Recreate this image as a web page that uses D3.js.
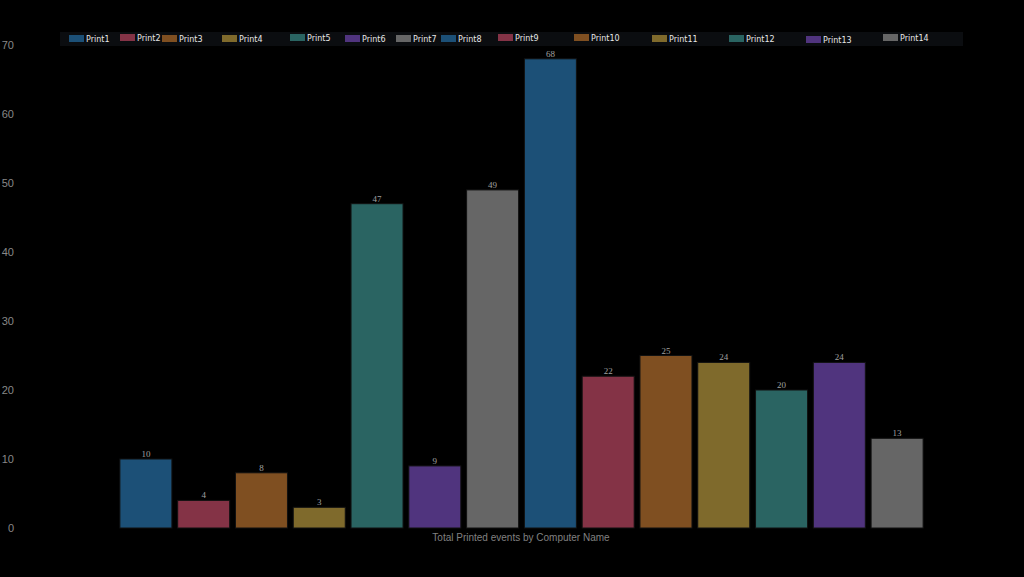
<!DOCTYPE html>
<html>
<head>
<meta charset="utf-8">
<script src="https://cdn.jsdelivr.net/npm/d3@7"></script>
<style>
  html, body { margin: 0; padding: 0; background: #000; }
  svg { display: block; }
</style>
</head>
<body>
<div id="chart"></div>
<script>
// Chart data
var printers = ['Print1', 'Print2', 'Print3', 'Print4', 'Print5', 'Print6', 'Print7',
                'Print8', 'Print9', 'Print10', 'Print11', 'Print12', 'Print13', 'Print14'];
var printCounts = [10, 4, 8, 3, 47, 9, 49, 68, 22, 25, 24, 20, 24, 13];
var yTicks = [0, 10, 20, 30, 40, 50, 60, 70];
var xTitle = 'Total Printed events by Computer Name';

// Palette (repeats after 7)
var palette = ['#1c5077', '#843346', '#7f4f21', '#7f6a2c', '#2a6462', '#50347e', '#666666'];

// Legend item x positions (layout of the legend row)
var legendX = [69, 120, 162, 222, 290, 345, 396, 441, 498, 574, 652, 729, 806, 883];
var legendDy = [0, -1, 0, 0, -1, 0, 0, 0, -1, -1, 0, 0, 1, -1];

var svgWidth = 1024;
var svgHeight = 577;

var svg = d3.select('#chart')
  .append('svg')
  .attr('width', svgWidth)
  .attr('height', svgHeight)
  .style('background', '#000');

// Scales
var xScale = d3.scaleBand()
  .domain(printers)
  .range([117, 926])
  .paddingInner(0.1)
  .paddingOuter(0.05);

var yScale = d3.scaleLinear()
  .domain([0, 70])
  .range([528, 45]);

var color = d3.scaleOrdinal()
  .domain(printers)
  .range(palette);

// Y axis (labels only)
var yAxis = d3.axisLeft(yScale)
  .tickValues(yTicks)
  .tickSize(0)
  .tickPadding(0);

var yG = svg.append('g')
  .attr('transform', 'translate(14,0)')
  .call(yAxis);
yG.select('.domain').remove();
yG.selectAll('text')
  .style('fill', '#888888')
  .style('font-family', 'Liberation Sans, Arial, sans-serif')
  .style('font-size', '11px');

// Bars
svg.append('g').selectAll('rect')
  .data(printers)
  .enter()
  .append('rect')
  .attr('x', d => xScale(d))
  .attr('y', (d, i) => yScale(printCounts[i]))
  .attr('width', xScale.bandwidth())
  .attr('height', (d, i) => yScale(0) - yScale(printCounts[i]))
  .attr('fill', d => color(d))
  .attr('stroke', '#111')
  .attr('stroke-width', 1);

// Value labels
svg.append('g').selectAll('text')
  .data(printers)
  .enter()
  .append('text')
  .attr('x', d => xScale(d) + xScale.bandwidth() / 2)
  .attr('y', (d, i) => yScale(printCounts[i]) - 2)
  .attr('text-anchor', 'middle')
  .style('fill', '#a0a0a0')
  .style('font-family', 'Liberation Serif, Times New Roman, serif')
  .style('font-size', '9px')
  .text((d, i) => printCounts[i]);

// X title
svg.append('text')
  .attr('x', 521)
  .attr('y', 541)
  .attr('text-anchor', 'middle')
  .style('fill', '#808080')
  .style('font-family', 'Liberation Sans, Arial, sans-serif')
  .style('font-size', '10px')
  .text(xTitle);

// Legend
var legend = svg.append('g');
legend.append('rect')
  .attr('x', 60)
  .attr('y', 32)
  .attr('width', 903)
  .attr('height', 14)
  .attr('fill', '#0b0d10');

var items = legend.selectAll('g.item')
  .data(printers)
  .enter()
  .append('g')
  .attr('class', 'item')
  .attr('transform', (d, i) => `translate(${legendX[i]}, ${35 + legendDy[i]})`);

items.append('rect')
  .attr('width', 15)
  .attr('height', 7)
  .attr('fill', d => color(d));

items.append('text')
  .attr('x', 17)
  .attr('y', 7)
  .style('fill', '#e6e6e6')
  .style('font-family', 'DejaVu Sans, sans-serif')
  .style('font-size', '8px')
  .text(d => d);
</script>
</body>
</html>
